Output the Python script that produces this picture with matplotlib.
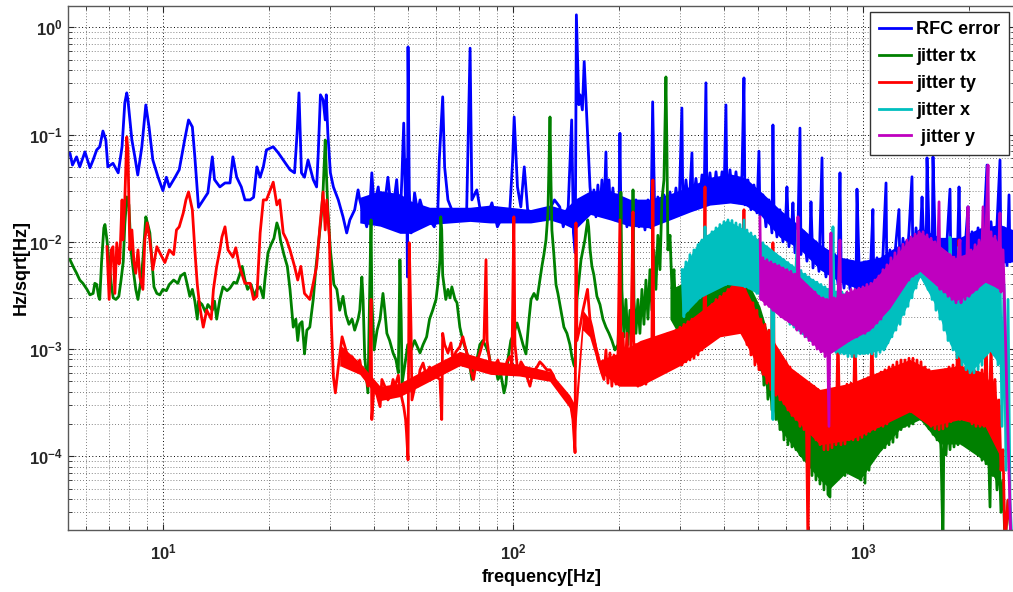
import math
import matplotlib
matplotlib.use('Agg')
import matplotlib.pyplot as plt
from matplotlib.ticker import LogLocator, FuncFormatter, NullFormatter

plt.rcParams['font.family'] = 'Liberation Sans'
plt.rcParams['font.weight'] = 'bold'
plt.rcParams['mathtext.fontset'] = 'custom'
plt.rcParams['mathtext.rm'] = 'Liberation Sans:bold'
plt.rcParams['mathtext.bf'] = 'Liberation Sans:bold'
plt.rcParams['mathtext.default'] = 'rm'

# amplitude spectra, Hz/sqrt(Hz) vs frequency in Hz
rfc_freq = [5.33, 5.41, 5.5, 5.65, 5.77, 5.97, 6.17, 6.3, 6.45, 6.58, 6.72, 6.85, 6.94, 7.18, 7.43,
            7.62, 7.76, 7.86, 7.92, 8.13, 8.29, 8.45, 8.68, 8.91, 9.1, 9.33, 9.66, 9.97, 10.2, 10.4,
            10.8, 11.1, 11.5, 11.8, 12.1, 12.3, 12.6, 13.0, 13.4, 13.8, 14.0, 14.5, 15.0, 15.5, 15.8,
            16.2, 16.7, 17.1, 17.7, 18.1, 18.5, 18.9, 19.3, 19.7, 20.6, 21.3, 22.0, 23.0, 23.7, 24.1,
            24.4, 24.8, 25.3, 25.9, 26.8, 27.4, 27.7, 28.1, 28.6, 29.0, 29.2, 29.5, 30.0, 30.6, 31.6,
            32.6, 33.4, 34.1, 35.2, 36.0, 36.4, 37.2, 38.1, 38.9, 39.4, 40.0, 41.1, 42.0, 42.9, 43.8,
            45.0, 46.4, 47.4, 48.0, 48.6, 49.2, 49.5, 49.8, 50.0, 50.4, 51.0, 52.2, 53.3, 54.1, 55.8,
            57.6, 59.4, 60.8, 61.4, 62.8, 63.6, 65.0, 67.2, 68.7, 70.3, 72.2, 73.5, 75.2, 76.1, 78.6,
            81.3, 84.1, 86.8, 90.0, 94.1, 97.3, 99.5, 100.5, 102.7, 105, 107.4, 109.8, 114.8, 120, 125.4,
            131, 135.6, 138.8, 143.4, 146.7, 148.4, 150.2, 151.3, 153.8, 155, 157.4, 159.3, 161.2, 163.8, 165.5,
            167.6, 169.8, 172.1, 174.3, 176.7, 179.0, 181.4, 183.8, 185.0, 187.5, 189.9, 192.4, 195.0, 197.6, 200.2,
            201.5, 202.8, 206.9, 211.0, 215.2, 219.6, 223.9, 228.4, 232.9, 237.6, 242.3, 247.1, 249.9, 253.6, 258.6,
            263.8, 269.2, 274.5, 280.1, 285.6, 291.3, 297.1, 302.9, 304.9, 311.1, 317.3, 323.6, 325.7, 332.2, 338.9,
            345.7, 350.3, 354.8, 357.1, 364.3, 371.6, 379.1, 386.6, 394.4, 399.4, 404.7, 407.4, 415.6, 424.0, 432.3,
            440.8, 449.7, 455.6, 458.6, 467.7, 477.0, 486.5, 496.2, 502.8, 506.1, 516.2, 526.5, 537.0, 547.7, 551.3,
            554.9, 566.0, 577.3, 588.8, 600.5, 604.5, 612.5, 624.8, 628.8, 637.2, 650.0, 658.6, 662.9, 676.1, 689.6,
            703.4, 708.0, 717.5, 731.7, 746.3, 761.3, 766.2, 781.5, 797.1, 812.8, 829.1, 845.7, 856.9, 862.6, 879.7,
            897.2, 915.2, 933.5, 951.9, 958.2, 970.8, 990.1, 1010, 1030, 1050, 1064, 1071, 1093, 1115, 1137,
            1160, 1167, 1190, 1214, 1238, 1263, 1272, 1297, 1323, 1349, 1376, 1385, 1413, 1441, 1470,
            1480, 1509, 1519, 1539, 1570, 1580, 1601, 1633, 1665, 1698, 1732, 1767, 1778, 1814, 1850,
            1875, 1887, 1925, 1963, 1989, 2002, 2042, 2083, 2125, 2167, 2210, 2254, 2269, 2314, 2360,
            2407, 2455, 2471, 2520, 2571, 2605, 2622, 2670]
rfc_amp = [0.0675, 0.067, 0.052, 0.062, 0.050, 0.069, 0.049, 0.058, 0.072, 0.077, 0.108, 0.089, 0.050, 0.054, 0.044,
           0.077, 0.198, 0.245, 0.211, 0.089, 0.062, 0.042, 0.077, 0.189, 0.118, 0.058, 0.040, 0.030, 0.040, 0.0325,
           0.040, 0.047, 0.089, 0.137, 0.118, 0.062, 0.021, 0.0246, 0.0286, 0.062, 0.038, 0.0325, 0.0354, 0.0354, 0.062,
           0.040, 0.0325, 0.0246, 0.0246, 0.026, 0.050, 0.040, 0.050, 0.072, 0.077, 0.0675, 0.058, 0.047, 0.044, 0.103,
           0.245, 0.044, 0.040, 0.058, 0.038, 0.0325, 0.0675, 0.235, 0.211, 0.137, 0.235, 0.103, 0.044, 0.0325, 0.0246,
           0.0171, 0.0121, 0.016, 0.0199, 0.0305, 0.0246, 0.0186, 0.0138, 0.0212, 0.044, 0.0212, 0.0325, 0.0171, 0.0231, 0.040,
           0.0171, 0.038, 0.0138, 0.038, 0.128, 0.0199, 0.058, 0.0047, 0.658, 0.0305, 0.0121, 0.0286, 0.0186, 0.0246, 0.0171,
           0.016, 0.0138, 0.0186, 0.058, 0.225, 0.050, 0.0246, 0.0186, 0.016, 0.0186, 0.016, 0.0186, 0.64, 0.0246, 0.0305,
           0.016, 0.0171, 0.0231, 0.0138, 0.0186, 0.016, 0.058, 0.146, 0.0325, 0.0212, 0.050, 0.0199, 0.0171, 0.016, 0.0186,
           0.0246, 0.0212, 0.0138, 0.0212, 0.137, 0.0121, 0.0079, 1.31, 0.19, 0.235, 0.17, 0.48, 0.211, 0.072, 0.0325,
           0.0212, 0.0305, 0.0171, 0.0339, 0.0186, 0.0378, 0.0178, 0.0689, 0.0199, 0.0378, 0.0171, 0.0318, 0.016, 0.0274, 0.0171,
           0.103, 0.0178, 0.0246, 0.0138, 0.0231, 0.0129, 0.0246, 0.0138, 0.0221, 0.0129, 0.0246, 0.0135, 0.202, 0.0145, 0.0262,
           0.0154, 0.0274, 0.016, 0.0292, 0.0168, 0.0318, 0.0178, 0.177, 0.0186, 0.0378, 0.0199, 0.0675, 0.0212, 0.039, 0.0212,
           0.0421, 0.0221, 0.304, 0.0231, 0.044, 0.0231, 0.045, 0.0231, 0.045, 0.0246, 0.189, 0.0246, 0.0469, 0.0236, 0.045,
           0.0231, 0.0421, 0.338, 0.0221, 0.0378, 0.0199, 0.0339, 0.0186, 0.07, 0.0178, 0.0274, 0.0138, 0.0246, 0.0121, 0.123,
           0.0221, 0.0111, 0.0199, 0.0100, 0.0186, 0.0325, 0.009, 0.0154, 0.0231, 0.0079, 0.0135, 0.115, 0.0076, 0.0124, 0.0066,
           0.0108, 0.0236, 0.0057, 0.01, 0.0053, 0.0607, 0.0088, 0.0047, 0.0081, 0.0042, 0.0076, 0.0040, 0.044, 0.0071, 0.0037,
           0.0068, 0.0036, 0.0065, 0.0035, 0.031, 0.0065, 0.0033, 0.0065, 0.0035, 0.0068, 0.020, 0.0035, 0.0071, 0.0036, 0.0076,
           0.0354, 0.0038, 0.0084, 0.0041, 0.0098, 0.020, 0.0044, 0.0108, 0.0049, 0.0124, 0.0404, 0.0053, 0.0135, 0.0055, 0.0262,
           0.0145, 0.0057, 0.0607, 0.0129, 0.0053, 0.062, 0.0116, 0.0049, 0.0104, 0.0047, 0.01, 0.031, 0.0049, 0.0104, 0.0051,
           0.0325, 0.0108, 0.0053, 0.0116, 0.0212, 0.0055, 0.0124, 0.0057, 0.0135, 0.006, 0.0145, 0.052, 0.0064, 0.0154, 0.0065,
           0.0145, 0.058, 0.0064, 0.0135, 0.006, 0.0274, 0.0065, 0.0116]

tx_freq = [5.33, 5.41, 5.55, 5.65, 5.77, 5.89, 6.05, 6.17, 6.3, 6.37, 6.45, 6.53, 6.58, 6.66, 6.76,
           6.81, 6.9, 7.0, 7.1, 7.19, 7.32, 7.46, 7.57, 7.68, 7.76, 7.86, 7.97, 8.08, 8.18, 8.34,
           8.46, 8.63, 8.74, 8.91, 9.03, 9.15, 9.27, 9.4, 9.58, 9.77, 9.97, 10.2, 10.4, 10.7, 11.0,
           11.2, 11.5, 11.7, 11.9, 12.1, 12.3, 12.5, 12.6, 12.9, 13.2, 13.4, 13.8, 14.0, 14.2, 14.5,
           14.8, 15.2, 15.5, 15.9, 16.2, 16.5, 16.8, 17.1, 17.4, 17.8, 18.2, 18.5, 18.9, 19.3, 19.5,
           19.9, 20.3, 20.7, 21.1, 21.4, 21.6, 22.1, 22.6, 23.0, 23.5, 23.9, 24.2, 24.5, 24.9, 25.2,
           25.3, 25.7, 26.2, 26.8, 27.3, 27.8, 28.2, 28.6, 29.0, 29.2, 29.5, 30.0, 30.3, 30.7, 31.3,
           31.9, 32.6, 33.2, 33.9, 34.6, 35.2, 36.0, 36.4, 36.9, 37.2, 37.6, 38.4, 38.9, 39.2, 39.4,
           40.0, 40.8, 41.6, 42.4, 42.9, 43.5, 44.3, 45.3, 46.2, 46.9, 47.4, 47.8, 48.1, 49.2, 49.9,
           51.0, 52.2, 54.1, 55.2, 56.5, 57.6, 58.8, 60.1, 60.8, 61.7, 62.0, 62.4, 62.8, 64.1, 65.0,
           65.9, 66.7, 68.1, 69.0, 70.3, 71.7, 73.2, 74.6, 76.1, 77.1, 78.6, 80.2, 81.8, 83.5, 85.2,
           86.8, 88.6, 90.3, 92.1, 94.0, 95.2, 96.4, 98.3, 100.3, 102.4, 104.4, 106.5, 108.6, 110.8, 112.3,
           114.5, 116.8, 119.0, 120.6, 122.2, 123.9, 125.5, 126.4, 127.2, 128.0, 128.8, 130.5, 132.3, 134.0, 136.7,
           139.4, 142.2, 145.0, 146.9, 148.9, 150.0, 151.9, 153.9, 156.0, 158.0, 160.0, 163.0, 164.0, 165.6, 167.6,
           169.8, 173.2, 176.7, 180.2, 183.8, 187.5, 191.1, 195.0, 198.9, 201.5, 202.8, 204.1, 206.9, 209.6, 212.4,
           215.2, 218.1, 219.6, 221.0, 223.9, 226.8, 229.8, 232.9, 236.0, 239.1, 242.3, 245.5, 248.7, 252.0, 255.3,
           258.6, 262.2, 265.6, 269.2, 272.7, 274.5, 276.3, 280.1, 283.8, 287.5, 291.3, 295.1, 299.0, 303.1, 307.0,
           311.1, 315.2, 319.4, 323.6, 327.9, 332.2, 336.7, 341.2, 345.7, 350.3, 354.8, 359.6, 364.3, 369.2, 374.1,
           379.1, 384.0, 389.0, 394.4, 399.4, 404.7, 410.2, 415.6, 421.1, 426.7, 432.3, 438.0, 443.7, 449.7, 455.6,
           461.6, 467.7, 473.9, 480.1, 486.5, 493.0, 499.5, 506.1, 512.8, 519.6, 526.5, 533.4, 540.5, 547.7, 554.9,
           562.3, 569.7, 577.3, 585.0, 592.8, 600.5, 608.5, 616.6, 624.8, 633.0, 641.4, 650.0, 658.6, 667.3, 676.1,
           685.1, 694.1, 703.4, 712.8, 722.1, 731.7, 741.4, 751.2, 761.3, 771.2, 781.5, 791.8, 802.3, 807.5, 818.2,
           829.1, 840.0, 851.3, 862.6, 874.0, 885.5, 897.2, 909.0, 921.1, 933.5, 945.7, 958.2, 970.8, 983.7, 996.6,
           1010, 1023, 1037, 1050, 1064, 1078, 1093, 1107, 1122, 1137, 1152, 1167, 1183, 1198, 1214,
           1230, 1246, 1263, 1280, 1297, 1314, 1331, 1349, 1367, 1385, 1404, 1422, 1441, 1460, 1480,
           1499, 1519, 1539, 1560, 1580, 1601, 1622, 1644, 1665, 1687, 1698, 1721, 1744, 1767, 1790,
           1814, 1838, 1862, 1887, 1912, 1937, 1963, 1989, 2015, 2042, 2069, 2096, 2125, 2153, 2181,
           2210, 2239, 2269, 2299, 2314, 2345, 2375, 2407, 2439, 2471, 2504, 2537, 2588, 2657]
tx_amp = [0.0070, 0.0068, 0.0057, 0.0051, 0.0044, 0.0041, 0.0036, 0.0032, 0.0033, 0.0041, 0.0040, 0.0031, 0.0029, 0.0065, 0.0135,
          0.0145, 0.0104, 0.0064, 0.0040, 0.0030, 0.0029, 0.0031, 0.0044, 0.0065, 0.0145, 0.0262, 0.0221, 0.0084, 0.0059, 0.0036,
          0.0029, 0.0044, 0.0068, 0.0171, 0.0145, 0.0121, 0.0068, 0.0038, 0.0033, 0.0032, 0.0036, 0.0035, 0.0040, 0.0044, 0.0041,
          0.0048, 0.0051, 0.0040, 0.0031, 0.0036, 0.0028, 0.0019, 0.0028, 0.0026, 0.0022, 0.0026, 0.0023, 0.0028, 0.0019, 0.0029,
          0.0038, 0.0035, 0.0037, 0.0042, 0.0041, 0.0049, 0.0059, 0.0044, 0.0036, 0.0040, 0.0031, 0.0036, 0.0038, 0.0030, 0.0044,
          0.0079, 0.0094, 0.0108, 0.0150, 0.0129, 0.0104, 0.0076, 0.0059, 0.0036, 0.0016, 0.0019, 0.0012, 0.0017, 0.0018, 0.0011,
          0.0009, 0.0015, 0.0016, 0.0029, 0.0059, 0.0104, 0.0160, 0.0305, 0.089, 0.047, 0.0199, 0.0084, 0.0061, 0.0040, 0.0036,
          0.0023, 0.0031, 0.0021, 0.0017, 0.0019, 0.0015, 0.0019, 0.0023, 0.0047, 0.0029, 0.00085, 0.00039, 0.0044, 0.0160, 0.0029,
          0.00098, 0.0015, 0.0019, 0.0033, 0.0023, 0.0014, 0.0012, 0.00092, 0.00079, 0.0006, 0.0068, 0.0019, 0.00048, 0.00079, 0.0011,
          0.00098, 0.0012, 0.00092, 0.0011, 0.0013, 0.0019, 0.0023, 0.0029, 0.0040, 0.0068, 0.0171, 0.0129, 0.0049, 0.0029, 0.0036,
          0.0030, 0.0038, 0.0029, 0.0027, 0.0016, 0.0012, 0.00098, 0.00079, 0.00052, 0.00071, 0.00079, 0.0011, 0.0012, 0.00105, 0.00088,
          0.0006, 0.00071, 0.00052, 0.00058, 0.00039, 0.00047, 0.00079, 0.0012, 0.0014, 0.00175, 0.0014, 0.0011, 0.0009, 0.0019, 0.0029,
          0.0033, 0.0029, 0.0044, 0.0059, 0.0076, 0.0104, 0.0186, 0.058, 0.146, 0.0378, 0.0129, 0.0076, 0.0040, 0.0033, 0.0023,
          0.0016, 0.0014, 0.0011, 0.00085, 0.00071, 0.00068, 0.0029, 0.0044, 0.0068, 0.0084, 0.0104, 0.0160, 0.0138, 0.0084, 0.0059,
          0.0049, 0.0031, 0.0026, 0.0019, 0.0016, 0.0014, 0.0012, 0.00098, 0.0011, 0.0029, 0.029, 0.0036, 0.0013, 0.0029, 0.0011,
          0.0023, 0.0012, 0.0305, 0.0029, 0.0014, 0.0029, 0.0014, 0.0036, 0.0017, 0.0044, 0.0019, 0.0055, 0.0023, 0.0084, 0.0036,
          0.0115, 0.0055, 0.0246, 0.0378, 0.345, 0.072, 0.0084, 0.0115, 0.0036, 0.0055, 0.0019, 0.0029, 0.0014, 0.0032, 0.0011,
          0.0036, 0.0012, 0.0040, 0.0014, 0.0049, 0.0015, 0.0055, 0.0017, 0.0044, 0.0019, 0.0061, 0.0021, 0.0065, 0.0022, 0.0068,
          0.0023, 0.0071, 0.0023, 0.0076, 0.0022, 0.0081, 0.0021, 0.0076, 0.0020, 0.0071, 0.0019, 0.0065, 0.0017, 0.0057, 0.0015,
          0.0049, 0.0012, 0.0040, 0.00098, 0.0029, 0.00079, 0.0021, 0.00064, 0.0015, 0.00046, 0.0011, 0.00034, 0.00079, 0.00027, 0.00064,
          0.00022, 0.00058, 0.000177, 0.00052, 0.000142, 0.00047, 0.000128, 0.00048, 0.000122, 0.00052, 0.000115, 0.00047, 0.000103, 0.00042, 0.000092,
          0.00039, 0.000074, 0.00036, 0.000066, 0.000335, 0.00006, 0.00031, 0.000055, 0.000335, 0.0000485, 0.00037, 0.000044, 0.0000417, 0.00042, 0.000092,
          0.00037, 0.000085, 0.000335, 0.000074, 0.00037, 0.000066, 0.00042, 0.000074, 0.0004, 0.000074, 0.00037, 0.000066, 0.000335, 0.00006, 0.000335,
          0.000056, 0.00037, 0.000074, 0.00040, 0.00010, 0.00042, 0.000108, 0.00043, 0.000115, 0.00044, 0.00012, 0.00042, 0.000128, 0.00040, 0.000135,
          0.00038, 0.00015, 0.00037, 0.000177, 0.0004, 0.00019, 0.00042, 0.00019, 0.00044, 0.0002, 0.00046, 0.00022, 0.00047, 0.00022, 0.00045,
          0.00021, 0.00042, 0.00018, 0.00037, 0.00016, 0.00031, 0.000142, 0.00027, 0.000115, 0.000015, 0.00022, 0.000103, 0.00024, 0.000115, 0.00027,
          0.000122, 0.00031, 0.000128, 0.00032, 0.00013, 0.000335, 0.00013, 0.000335, 0.000128, 0.00032, 0.000115, 0.00028, 0.000103, 0.00025, 0.000092,
          0.00022, 0.000085, 0.00019, 0.0000336, 0.000177, 0.000066, 0.000142, 0.0000485, 0.000115, 0.00003, 0.00006, 0.000015, 0.000039, 0.000015]

ty_freq = [6.9, 7.0, 7.1, 7.18, 7.27, 7.36, 7.47, 7.51, 7.62, 7.66, 7.76, 7.86, 7.92, 8.02, 8.13,
           8.24, 8.34, 8.46, 8.57, 8.74, 8.85, 8.99, 9.15, 9.33, 9.58, 9.77, 10.1, 10.4, 10.7, 10.9,
           11.1, 11.4, 11.6, 11.8, 12.1, 12.3, 12.5, 12.7, 13.0, 13.3, 13.7, 13.9, 14.2, 14.5, 14.7,
           15.0, 15.3, 15.8, 16.1, 16.5, 17.1, 17.7, 18.1, 18.5, 18.9, 19.3, 19.7, 20.6, 21.1, 21.5,
           22.0, 22.5, 23.0, 23.7, 24.2, 24.7, 25.3, 26.2, 26.8, 27.4, 28.0, 28.6, 29.0, 29.3, 29.8,
           30.2, 30.6, 31.0, 31.6, 32.4, 33.4, 34.1, 34.6, 35.5, 36.4, 36.9, 37.6, 38.4, 38.9, 39.2,
           39.4, 40.0, 40.8, 41.6, 42.1, 42.9, 43.8, 44.3, 45.3, 45.9, 46.9, 47.4, 48.6, 49.2, 49.5,
           50.0, 50.4, 51.0, 51.3, 52.5, 53.3, 54.1, 55.2, 56.3, 57.6, 58.8, 60.3, 61.7, 62.4, 62.8,
           63.6, 65.0, 66.3, 67.2, 68.5, 70.3, 71.7, 73.2, 74.1, 75.2, 76.9, 78.1, 79.9, 81.5, 82.4,
           83.5, 84.1, 85.2, 86.8, 88.6, 90.3, 92.1, 94.0, 95.8, 97.7, 99.0, 100.3, 101.0, 103.0, 105.1,
           107.2, 109.3, 111.5, 113.7, 116.8, 119.0, 121.4, 124.6, 127.2, 130.0, 132.3, 135.0, 137.6, 140.3, 143.1,
           146.0, 147.9, 150.0, 150.9, 151.9, 154.9, 158.0, 161.5, 162.8, 165.4, 167.6, 171.0, 174.4, 178.4, 181.4,
           183.8, 186.2, 188.7, 191.1, 193.7, 196.3, 198.9, 201.5, 202.8, 205.5, 208.2, 211.0, 213.8, 216.7, 219.6,
           221.0, 223.9, 226.8, 229.8, 232.9, 236.0, 239.1, 242.3, 245.5, 248.7, 250.3, 252.0, 255.3, 258.6, 262.2,
           265.6, 269.2, 272.7, 276.3, 280.1, 283.8, 287.5, 291.3, 295.1, 299.0, 303.1, 307.0, 311.1, 315.2, 319.4,
           323.6, 327.9, 332.2, 336.7, 341.2, 345.7, 350.3, 352.6, 354.8, 359.6, 364.3, 369.2, 374.1, 379.1, 384.0,
           389.0, 394.4, 399.4, 404.7, 410.2, 415.6, 421.1, 426.7, 432.3, 438.0, 443.7, 449.7, 455.6, 458.6, 464.7,
           470.8, 477.0, 483.3, 489.7, 496.2, 502.8, 509.4, 516.2, 523.0, 530.0, 537.0, 544.1, 551.3, 554.9, 562.3,
           569.7, 577.3, 585.0, 592.8, 600.5, 608.5, 616.6, 624.8, 633.0, 641.4, 650.0, 658.6, 667.3, 676.1, 685.1,
           694.1, 703.4, 712.8, 722.1, 731.7, 741.4, 751.2, 761.3, 771.2, 781.5, 791.8, 802.3, 812.8, 823.7, 834.5,
           845.7, 851.3, 862.6, 874.0, 885.5, 897.2, 909.0, 921.1, 933.5, 945.7, 951.9, 964.5, 977.2, 990.1, 1003,
           1017, 1030, 1043, 1057, 1064, 1078, 1093, 1107, 1122, 1137, 1152, 1167, 1183, 1198, 1214,
           1230, 1246, 1263, 1280, 1297, 1314, 1331, 1349, 1367, 1385, 1404, 1422, 1441, 1460, 1480,
           1499, 1519, 1539, 1560, 1580, 1601, 1622, 1644, 1665, 1687, 1709, 1732, 1755, 1778, 1802,
           1826, 1850, 1875, 1887, 1912, 1937, 1963, 1989, 2015, 2042, 2069, 2096, 2125, 2153, 2181,
           2210, 2239, 2254, 2284, 2314, 2345, 2375, 2407, 2439, 2471, 2504, 2537, 2588, 2657]
ty_amp = [0.0090, 0.0029, 0.0084, 0.0090, 0.0033, 0.0098, 0.0062, 0.0068, 0.0246, 0.0104, 0.0246, 0.095, 0.072, 0.0084, 0.0129,
          0.0065, 0.0051, 0.0084, 0.0047, 0.0036, 0.0104, 0.0150, 0.0104, 0.0055, 0.0090, 0.0079, 0.0064, 0.0084, 0.0076, 0.0129,
          0.0138, 0.0186, 0.0246, 0.0292, 0.0199, 0.0084, 0.0040, 0.0025, 0.0016, 0.0023, 0.0019, 0.0036, 0.0059, 0.0084, 0.0111,
          0.0138, 0.0084, 0.0072, 0.0088, 0.0059, 0.0041, 0.0041, 0.0029, 0.0031, 0.0121, 0.0246, 0.0246, 0.036, 0.0221, 0.0246,
          0.0121, 0.0104, 0.0084, 0.0059, 0.0044, 0.0059, 0.0033, 0.0029, 0.0041, 0.0059, 0.0138, 0.0292, 0.0129, 0.0246, 0.0111,
          0.00175, 0.00055, 0.00039, 0.00068, 0.0013, 0.00092, 0.00079, 0.00085, 0.00068, 0.00079, 0.0006, 0.0006, 0.00045, 0.00048, 0.0029,
          0.00022, 0.00047, 0.00037, 0.00029, 0.00052, 0.00045, 0.000335, 0.00036, 0.00052, 0.00045, 0.00057, 0.00042, 0.00029, 0.00022, 0.000166,
          0.0000924, 0.0098, 0.0015, 0.000335, 0.00047, 0.00045, 0.00064, 0.00074, 0.00057, 0.00068, 0.00061, 0.00055, 0.00052, 0.00022, 0.0014,
          0.0011, 0.00092, 0.00114, 0.00079, 0.00094, 0.00105, 0.0013, 0.00098, 0.00085, 0.00067, 0.00052, 0.00071, 0.00088, 0.0011, 0.0012,
          0.0068, 0.0012, 0.00085, 0.0006, 0.00071, 0.00079, 0.00061, 0.0006, 0.00076, 0.00085, 0.00071, 0.0171, 0.0011, 0.0006, 0.00076,
          0.00068, 0.00055, 0.00045, 0.00061, 0.00068, 0.00076, 0.00071, 0.00064, 0.00064, 0.00057, 0.00048, 0.00045, 0.00042, 0.00037, 0.000335,
          0.00029, 0.00022, 0.000108, 0.015, 0.0012, 0.0016, 0.0023, 0.0032, 0.0036, 0.0019, 0.0016, 0.00114, 0.00079, 0.00061, 0.00052,
          0.00098, 0.00048, 0.00092, 0.00045, 0.00088, 0.00047, 0.00085, 0.016, 0.00057, 0.0014, 0.00052, 0.0014, 0.00047, 0.0012, 0.019,
          0.00052, 0.0011, 0.00045, 0.0011, 0.00047, 0.00114, 0.00047, 0.0012, 0.00052, 0.0012, 0.0378, 0.00057, 0.0012, 0.0006, 0.0012,
          0.0006, 0.0013, 0.00064, 0.0014, 0.00067, 0.0014, 0.00068, 0.0015, 0.00071, 0.0016, 0.00071, 0.0017, 0.00076, 0.0018, 0.00079,
          0.0019, 0.00082, 0.0019, 0.00088, 0.0021, 0.00098, 0.0022, 0.0325, 0.0011, 0.0024, 0.0012, 0.0026, 0.0013, 0.0029, 0.0013,
          0.0031, 0.0014, 0.0033, 0.0014, 0.0036, 0.0015, 0.0038, 0.0015, 0.0041, 0.0015, 0.0047, 0.0014, 0.0199, 0.0029, 0.0011,
          0.0029, 0.00088, 0.0027, 0.00071, 0.0023, 0.00064, 0.0019, 0.00058, 0.0017, 0.00048, 0.0015, 0.00042, 0.0098, 0.0012, 0.00037,
          0.00098, 0.000335, 0.00085, 0.00031, 0.00076, 0.00027, 0.00068, 0.00024, 0.00061, 0.00022, 0.00055, 0.00019, 0.00052, 0.000177, 0.00048,
          0.000015, 0.00047, 0.00016, 0.00045, 0.000142, 0.00042, 0.000128, 0.0004, 0.000115, 0.00039, 0.000115, 0.00039, 0.00012, 0.00042, 0.000128,
          0.0014, 0.00042, 0.000128, 0.00044, 0.00013, 0.00047, 0.000142, 0.00048, 0.000142, 0.0015, 0.00048, 0.000142, 0.00048, 0.00015, 0.00052,
          0.00016, 0.00054, 0.00017, 0.0014, 0.00055, 0.000177, 0.00057, 0.00019, 0.00061, 0.00019, 0.00064, 0.0002, 0.00068, 0.00022, 0.00071,
          0.00023, 0.00076, 0.00024, 0.00079, 0.00025, 0.00079, 0.00026, 0.00082, 0.00026, 0.00082, 0.00025, 0.00079, 0.00024, 0.00076, 0.00023,
          0.00068, 0.00022, 0.00064, 0.00019, 0.0006, 0.00018, 0.00057, 0.000177, 0.0006, 0.00018, 0.00064, 0.00019, 0.00068, 0.00021, 0.00071,
          0.00022, 0.00071, 0.0104, 0.00022, 0.00071, 0.00022, 0.00068, 0.00022, 0.00064, 0.0002, 0.00064, 0.00019, 0.00061, 0.00019, 0.00064,
          0.00019, 0.0014, 0.00052, 0.000177, 0.0011, 0.00022, 0.00052, 0.000142, 0.000335, 0.000074, 0.000115, 0.000015, 0.000039, 0.000015]

x_freq = [303.1, 307.0, 311.1, 315.2, 319.4, 323.6, 327.9, 332.2, 336.7, 341.2, 345.7, 350.3, 352.6, 354.8, 359.6,
          364.3, 369.2, 374.1, 379.1, 384.0, 389.0, 394.4, 399.4, 404.7, 410.2, 415.6, 421.1, 426.7, 432.3, 438.0,
          443.7, 449.7, 455.6, 458.6, 464.7, 470.8, 477.0, 483.3, 489.7, 496.2, 502.8, 509.4, 516.2, 523.0, 530.0,
          537.0, 544.1, 551.3, 554.9, 562.3, 569.7, 577.3, 585.0, 592.8, 600.5, 608.5, 616.6, 624.8, 633.0, 641.4,
          650.0, 654.3, 662.9, 671.7, 680.6, 689.6, 698.7, 708.0, 717.5, 727.0, 736.6, 746.3, 756.2, 766.2, 776.4,
          786.6, 797.1, 807.5, 818.2, 823.7, 834.5, 845.7, 856.9, 868.3, 879.7, 891.3, 903.0, 915.2, 927.1, 939.5,
          951.9, 964.5, 977.2, 990.1, 1003, 1017, 1030, 1043, 1057, 1071, 1086, 1100, 1115, 1130, 1144,
          1160, 1175, 1190, 1206, 1222, 1238, 1254, 1272, 1288, 1305, 1323, 1340, 1358, 1376, 1394,
          1413, 1431, 1450, 1470, 1489, 1509, 1529, 1549, 1570, 1591, 1611, 1633, 1654, 1676, 1698,
          1721, 1744, 1767, 1778, 1802, 1826, 1850, 1875, 1887, 1912, 1937, 1963, 1989, 2015, 2042,
          2069, 2096, 2125, 2153, 2181, 2210, 2239, 2269, 2299, 2329, 2360, 2391, 2423, 2455, 2488,
          2520, 2554, 2588, 2622, 2657]
x_amp = [0.0055, 0.0020, 0.0065, 0.0023, 0.0076, 0.0026, 0.0084, 0.0028, 0.0094, 0.0030, 0.0104, 0.0032, 0.0138, 0.0035, 0.0113,
         0.0036, 0.0124, 0.0037, 0.0135, 0.0038, 0.0145, 0.0040, 0.0154, 0.0040, 0.0160, 0.0041, 0.0158, 0.0041, 0.0150, 0.0040,
         0.0145, 0.0040, 0.0160, 0.0038, 0.0129, 0.0037, 0.0121, 0.0036, 0.0113, 0.0033, 0.0104, 0.0031, 0.0098, 0.0029, 0.0090,
         0.0026, 0.0084, 0.00022, 0.0025, 0.0077, 0.0022, 0.0072, 0.0020, 0.0068, 0.0019, 0.0064, 0.0017, 0.0060, 0.0016, 0.0057,
         0.0129, 0.0015, 0.0054, 0.0014, 0.0050, 0.0013, 0.0047, 0.0012, 0.0044, 0.00114, 0.0042, 0.0011, 0.0040, 0.0010, 0.0038,
         0.00098, 0.0036, 0.00095, 0.0138, 0.0035, 0.00093, 0.0035, 0.00091, 0.0034, 0.0009, 0.0033, 0.00085, 0.0032, 0.00085, 0.0032,
         0.00085, 0.0032, 0.0009, 0.0033, 0.00091, 0.0034, 0.00091, 0.0035, 0.0009, 0.0036, 0.00085, 0.0037, 0.00093, 0.0041, 0.00098,
         0.0044, 0.00114, 0.0048, 0.0013, 0.0053, 0.0015, 0.0057, 0.0017, 0.0062, 0.0021, 0.0068, 0.0025, 0.0074, 0.0030, 0.0080,
         0.0037, 0.0088, 0.0047, 0.0091, 0.0044, 0.0088, 0.0036, 0.0084, 0.0029, 0.0077, 0.0023, 0.0071, 0.0019, 0.0065, 0.0015,
         0.0062, 0.0012, 0.0110, 0.0060, 0.00098, 0.0059, 0.00083, 0.0090, 0.0058, 0.00071, 0.0058, 0.00064, 0.0058, 0.0006, 0.0059,
         0.0006, 0.0062, 0.00064, 0.0065, 0.00071, 0.0071, 0.00088, 0.0076, 0.00098, 0.0071, 0.00088, 0.0065, 0.00071, 0.0055, 0.00019,
         0.0040, 0.000074, 0.0029, 0.000039, 0.000015]

y_freq = [506.1, 509.4, 516.2, 523.0, 530.0, 537.0, 544.1, 551.3, 558.6, 566.0, 573.5, 581.1, 588.8, 596.7, 604.5,
          612.5, 620.7, 628.8, 637.2, 645.7, 650.0, 654.3, 662.9, 671.7, 680.6, 689.6, 698.7, 708.0, 717.5, 727.0,
          736.6, 746.3, 756.2, 766.2, 776.4, 786.6, 797.1, 802.3, 807.5, 812.8, 823.7, 834.5, 845.7, 856.9, 862.6,
          874.0, 885.5, 897.2, 909.0, 921.1, 933.5, 945.7, 958.2, 970.8, 983.7, 996.6, 1010, 1023, 1037, 1050,
          1064, 1078, 1093, 1107, 1122, 1137, 1152, 1167, 1183, 1198, 1214, 1230, 1246, 1263, 1280,
          1297, 1314, 1331, 1349, 1367, 1385, 1404, 1422, 1441, 1460, 1480, 1499, 1519, 1539, 1560,
          1580, 1601, 1622, 1644, 1654, 1676, 1698, 1721, 1744, 1767, 1790, 1814, 1838, 1862, 1887,
          1900, 1925, 1950, 1976, 1989, 2002, 2028, 2055, 2083, 2111, 2139, 2167, 2196, 2210, 2239,
          2269, 2284, 2314, 2345, 2375, 2407, 2439, 2455, 2471, 2504, 2537, 2571, 2605, 2640]
y_amp = [0.0171, 0.0029, 0.0071, 0.0026, 0.0068, 0.0025, 0.0065, 0.0023, 0.0062, 0.0022, 0.0060, 0.0020, 0.0057, 0.0019, 0.0055,
         0.0018, 0.0053, 0.0017, 0.0050, 0.0015, 0.0171, 0.0047, 0.0014, 0.0042, 0.0013, 0.0039, 0.0012, 0.0036, 0.0011, 0.0034,
         0.0010, 0.0031, 0.00094, 0.0030, 0.00085, 0.0029, 0.00019, 0.0029, 0.0121, 0.00095, 0.0030, 0.0010, 0.0031, 0.0104, 0.0011,
         0.0032, 0.00114, 0.0034, 0.0012, 0.0036, 0.0013, 0.0036, 0.0013, 0.0037, 0.0014, 0.0038, 0.0014, 0.0040, 0.0015, 0.0041,
         0.0016, 0.0044, 0.00175, 0.0048, 0.0019, 0.0055, 0.0022, 0.0061, 0.0026, 0.0071, 0.0030, 0.0079, 0.0034, 0.0088, 0.0038,
         0.0095, 0.0041, 0.0104, 0.0044, 0.0111, 0.0048, 0.0118, 0.0051, 0.0124, 0.0055, 0.0124, 0.0051, 0.0116, 0.0047, 0.0108,
         0.0044, 0.0100, 0.0040, 0.0236, 0.0036, 0.0084, 0.0034, 0.0079, 0.0031, 0.0076, 0.0029, 0.0072, 0.0027, 0.0071, 0.0104,
         0.0027, 0.0072, 0.0029, 0.0076, 0.0212, 0.0031, 0.0084, 0.0034, 0.0094, 0.0036, 0.0104, 0.0040, 0.0212, 0.0042, 0.0121,
         0.052, 0.0044, 0.0124, 0.0042, 0.0113, 0.0038, 0.0098, 0.0186, 0.0034, 0.0084, 0.0019, 0.000335, 0.000074, 0.000015]

# upper and lower edges of the dense noise floor of each trace
rfc_band_freq = [36.4, 41.6, 47.4, 51.0, 57.6, 65.9, 75.2, 85.7, 97.7, 112, 127, 140, 150, 166, 189,
                 215, 245, 280, 320, 364, 416, 458, 506, 577, 659, 751, 857, 977, 1115, 1272,
                 1450, 1654, 1887, 2153, 2455, 2670]
rfc_band_hi = [0.026, 0.030, 0.028, 0.024, 0.021, 0.021, 0.021, 0.022, 0.021, 0.020, 0.022, 0.020, 0.025, 0.030, 0.030,
               0.025, 0.025, 0.028, 0.033, 0.040, 0.043, 0.040, 0.030, 0.020, 0.014, 0.0095, 0.0072, 0.0066, 0.0072, 0.0095,
               0.0135, 0.011, 0.011, 0.0135, 0.0145, 0.013]
rfc_band_lo = [0.015, 0.014, 0.012, 0.012, 0.0145, 0.015, 0.0155, 0.015, 0.015, 0.015, 0.016, 0.0145, 0.013, 0.018, 0.016,
               0.014, 0.0135, 0.016, 0.019, 0.022, 0.023, 0.022, 0.018, 0.011, 0.0085, 0.0055, 0.0042, 0.0036, 0.0038, 0.0046,
               0.0058, 0.0052, 0.0055, 0.006, 0.0063, 0.0065]

tx_band_freq = [280, 299, 341, 389, 444, 506, 577, 659, 751, 802, 890, 977, 1115, 1272, 1450,
                1654, 1887, 2225, 2455]
tx_band_hi = [0.0036, 0.004, 0.005, 0.0074, 0.006, 0.0025, 0.0006, 0.0004, 0.00036, 0.0004, 0.0004, 0.00034, 0.00043, 0.0004, 0.00046,
              0.00028, 0.00032, 0.0002, 0.00012]
tx_band_lo = [0.0019, 0.0013, 0.0017, 0.0022, 0.0017, 0.00064, 0.00018, 0.0001, 0.00006, 0.00005, 0.00007, 0.00006, 0.00011, 0.00018, 0.00022,
              0.00013, 0.00013, 0.00009, 0.00005]

ty_band_freq = [31.9, 36.4, 41.6, 47.4, 57.6, 70.3, 86, 104, 127, 145, 150, 158, 165, 177, 200,
                230, 299, 389, 444, 506, 617, 751, 915, 1115, 1358, 1549, 1887, 2225, 2455]
ty_band_hi = [0.0011, 0.00075, 0.00045, 0.00048, 0.00068, 0.00095, 0.00078, 0.00072, 0.00062, 0.00037, 0.0003, 0.0023, 0.0019, 0.00079, 0.00092,
              0.0012, 0.0016, 0.0031, 0.0047, 0.0019, 0.00068, 0.00042, 0.00048, 0.00062, 0.0008, 0.00064, 0.0007, 0.0006, 0.0003]
ty_band_lo = [0.0007, 0.00058, 0.00033, 0.00036, 0.0005, 0.0007, 0.00058, 0.00056, 0.0005, 0.00028, 0.00015, 0.0015, 0.0013, 0.00061, 0.00045,
              0.00045, 0.0007, 0.0013, 0.0014, 0.00064, 0.00025, 0.000128, 0.000142, 0.00019, 0.00026, 0.00019, 0.00022, 0.00019, 0.0001]

x_band_freq = [303, 341, 407, 459, 523, 597, 681, 776, 885, 1010, 1152, 1314, 1450, 1601, 1767,
               2015, 2299, 2455]
x_band_hi = [0.0055, 0.0104, 0.016, 0.013, 0.0095, 0.0068, 0.005, 0.0038, 0.0033, 0.0033, 0.0042, 0.0066, 0.009, 0.0075, 0.006,
             0.0059, 0.0072, 0.0055]
x_band_lo = [0.002, 0.003, 0.004, 0.0038, 0.003, 0.0019, 0.0013, 0.001, 0.0009, 0.0009, 0.001, 0.0023, 0.0047, 0.0026, 0.0011,
             0.0006, 0.00095, 0.0007]

y_band_freq = [506, 577, 659, 751, 802, 915, 1043, 1190, 1358, 1450, 1601, 1826, 2015, 2225, 2375,
               2504]
y_band_hi = [0.0071, 0.006, 0.0047, 0.0031, 0.0029, 0.0035, 0.004, 0.0065, 0.0107, 0.0124, 0.010, 0.0071, 0.008, 0.0115, 0.011,
             0.0084]
y_band_lo = [0.0029, 0.002, 0.0015, 0.00095, 0.0009, 0.0012, 0.0015, 0.0024, 0.0046, 0.0053, 0.004, 0.0028, 0.0032, 0.0042, 0.0038,
             0.0034]

labels = ['RFC error', 'jitter tx', 'jitter ty', 'jitter x', ' jitter y']
colors = ['#0000ff', '#008000', '#ff0000', '#00bfbf', '#bf00bf']

fig = plt.figure(figsize=(10.13, 5.92), dpi=100)
ax = fig.add_axes([0.0674, 0.1047, 0.9346, 0.886])

series = [(rfc_freq, rfc_amp), (tx_freq, tx_amp), (ty_freq, ty_amp), (x_freq, x_amp), (y_freq, y_amp)]
bands = [(rfc_band_freq, rfc_band_lo, rfc_band_hi), (tx_band_freq, tx_band_lo, tx_band_hi),
         (ty_band_freq, ty_band_lo, ty_band_hi), (x_band_freq, x_band_lo, x_band_hi),
         (y_band_freq, y_band_lo, y_band_hi)]
for i, ((f, a), (bf, lo, hi), c, lab) in enumerate(zip(series, bands, colors, labels)):
    z = 2 + i * 0.1
    ax.fill_between(bf, lo, hi, color=c, lw=0, zorder=z)
    ax.loglog(f, a, color=c, lw=2, label=lab, zorder=z + 0.05)

ax.set_xlim(5.35, 2710)
ax.set_ylim(2.05e-5, 1.6)

ax.xaxis.set_major_locator(LogLocator(base=10, numticks=10))
ax.xaxis.set_minor_locator(LogLocator(base=10, subs=range(2, 10), numticks=20))
ax.yaxis.set_major_locator(LogLocator(base=10, numticks=10))
ax.yaxis.set_minor_locator(LogLocator(base=10, subs=range(2, 10), numticks=20))
fmt = FuncFormatter(lambda v, p: r'$10^{%d}$' % round(math.log10(v)))
ax.xaxis.set_major_formatter(fmt)
ax.yaxis.set_major_formatter(fmt)
ax.xaxis.set_minor_formatter(NullFormatter())
ax.yaxis.set_minor_formatter(NullFormatter())

ax.grid(True, which='major', color='k', linestyle=(0, (1, 2.5)), linewidth=0.7)
ax.grid(True, which='minor', color='0.35', linestyle=(0, (1, 2.5)), linewidth=0.6)
ax.tick_params(which='both', direction='in', top=True, right=True, labelsize=12, colors='0.15')
ax.tick_params(axis='x', which='major', length=4, pad=9)
ax.tick_params(axis='y', which='major', length=4, pad=4)
ax.tick_params(which='minor', length=3)
for s in ax.spines.values():
    s.set_color('0.35')
    s.set_linewidth(1.0)

ax.set_xlabel('frequency[Hz]', fontsize=13, fontweight='bold')
ax.xaxis.set_label_coords(0.5, -0.074)
ax.set_ylabel('Hz/sqrt[Hz]', fontsize=13, fontweight='bold')
ax.yaxis.set_label_coords(-0.0405, 0.5)

leg = ax.legend(loc='upper right', bbox_to_anchor=(0.9937, 0.9876), borderaxespad=0,
                frameon=True, fancybox=False, handlelength=1.8, handletextpad=0.25,
                labelspacing=0.55, borderpad=0.5, prop={'weight': 'bold', 'size': 13})
leg.get_frame().set_edgecolor('0.2')
leg.get_frame().set_linewidth(1.0)
leg.get_frame().set_alpha(1.0)
leg.set_zorder(10)
for line in leg.get_lines():
    line.set_linewidth(2)

fig.savefig('out.png', dpi=100)
